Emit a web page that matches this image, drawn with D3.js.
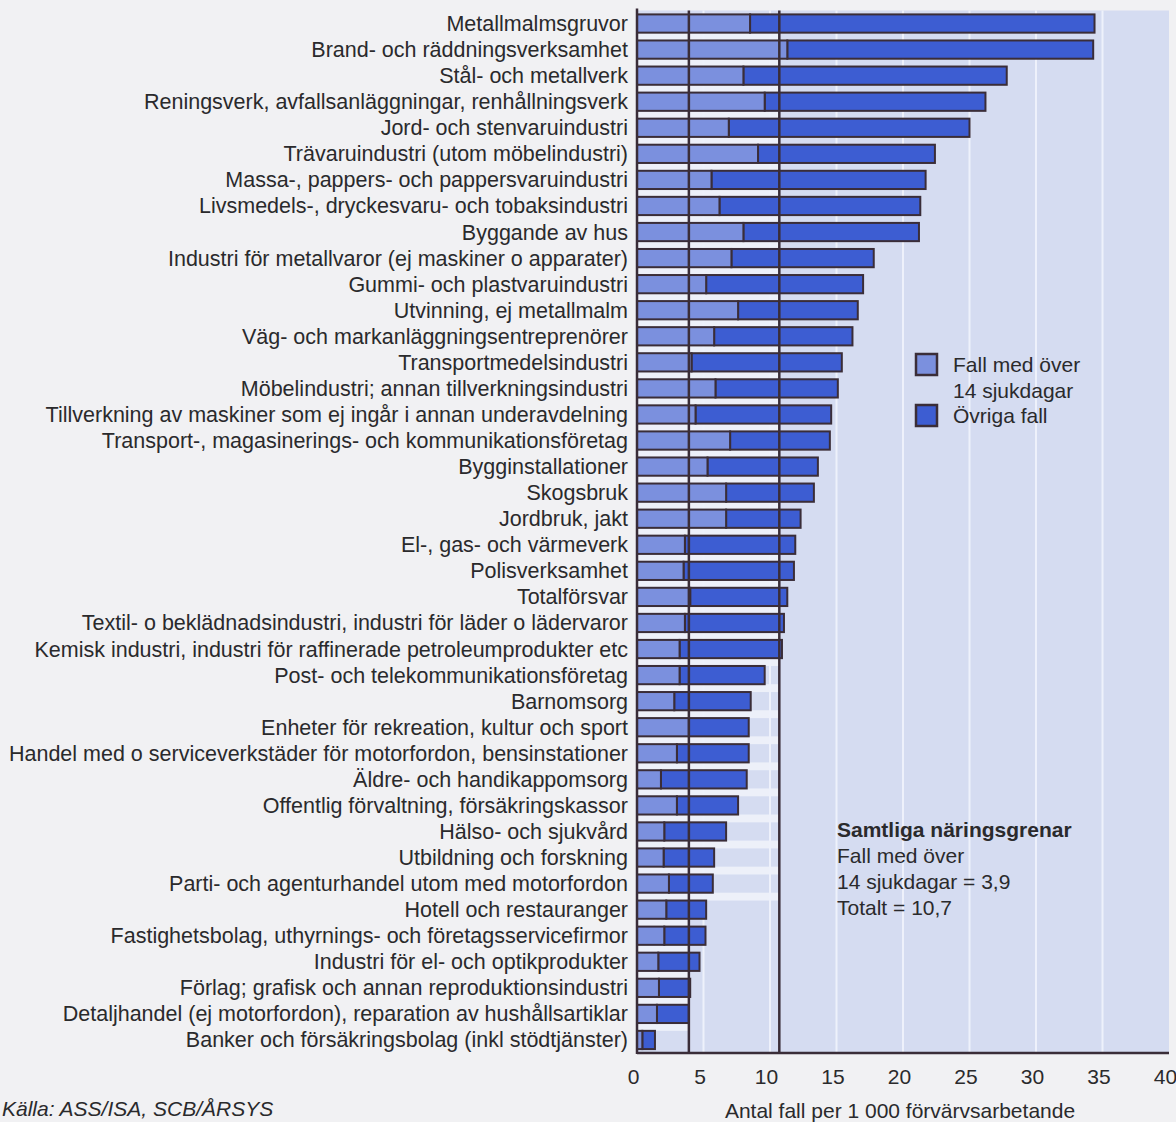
<!DOCTYPE html>
<html><head><meta charset="utf-8">
<script src="https://cdn.jsdelivr.net/npm/d3@7"></script>
<style>
body{margin:0;background:#f1f1f3;}
svg{display:block;font-family:"Liberation Sans",Arial,Helvetica,sans-serif;}
</style>
</head><body>
<svg id="c" width="1176" height="1122"></svg>
<script>
const categories = [
  "Metallmalmsgruvor",
  "Brand- och räddningsverksamhet",
  "Stål- och metallverk",
  "Reningsverk, avfallsanläggningar, renhållningsverk",
  "Jord- och stenvaruindustri",
  "Trävaruindustri (utom möbelindustri)",
  "Massa-, pappers- och pappersvaruindustri",
  "Livsmedels-, dryckesvaru- och tobaksindustri",
  "Byggande av hus",
  "Industri för metallvaror (ej maskiner o apparater)",
  "Gummi- och plastvaruindustri",
  "Utvinning, ej metallmalm",
  "Väg- och markanläggningsentreprenörer",
  "Transportmedelsindustri",
  "Möbelindustri; annan tillverkningsindustri",
  "Tillverkning av maskiner som ej ingår i annan underavdelning",
  "Transport-, magasinerings- och kommunikationsföretag",
  "Bygginstallationer",
  "Skogsbruk",
  "Jordbruk, jakt",
  "El-, gas- och värmeverk",
  "Polisverksamhet",
  "Totalförsvar",
  "Textil- o beklädnadsindustri, industri för läder o lädervaror",
  "Kemisk industri, industri för raffinerade petroleumprodukter etc",
  "Post- och telekommunikationsföretag",
  "Barnomsorg",
  "Enheter för rekreation, kultur och sport",
  "Handel med o serviceverkstäder för motorfordon, bensinstationer",
  "Äldre- och handikappomsorg",
  "Offentlig förvaltning, försäkringskassor",
  "Hälso- och sjukvård",
  "Utbildning och forskning",
  "Parti- och agenturhandel utom med motorfordon",
  "Hotell och restauranger",
  "Fastighetsbolag, uthyrnings- och företagsservicefirmor",
  "Industri för el- och optikprodukter",
  "Förlag; grafisk och annan reproduktionsindustri",
  "Detaljhandel (ej motorfordon), reparation av hushållsartiklar",
  "Banker och försäkringsbolag (inkl stödtjänster)"
];
// Fall med över 14 sjukdagar (per 1 000)
const over14 = [8.5, 11.3, 8.0, 9.6, 6.9, 9.1, 5.6, 6.2, 8.0, 7.1,
                5.2, 7.6, 5.8, 4.1, 5.9, 4.4, 7.0, 5.3, 6.7, 6.7,
                3.6, 3.5, 4.0, 3.6, 3.2, 3.2, 2.8, 3.9, 3.0, 1.8,
                3.0, 2.05, 2.0, 2.4, 2.2, 2.05, 1.6, 1.65, 1.5, 0.4];
// Totalt antal fall (per 1 000)
const totals = [34.4, 34.3, 27.8, 26.2, 25.0, 22.4, 21.7, 21.3, 21.2, 17.8,
                17.0, 16.6, 16.2, 15.4, 15.1, 14.6, 14.5, 13.6, 13.3, 12.3,
                11.9, 11.8, 11.3, 11.05, 10.9, 9.6, 8.55, 8.4, 8.4, 8.25,
                7.6, 6.7, 5.8, 5.7, 5.2, 5.15, 4.7, 4.0, 3.9, 1.35];
const xTicks = [0, 5, 10, 15, 20, 25, 30, 35, 40];
const refOver14 = 3.9;
const refTotal = 10.7;
const legendLabels = [["Fall med över", "14 sjukdagar"], ["Övriga fall"]];
const noteLines = ["Samtliga näringsgrenar", "Fall med över", "14 sjukdagar = 3,9", "Totalt = 10,7"];
const xTitle = "Antal fall per 1 000 förvärvsarbetande";
const sourceText = "Källa: ASS/ISA, SCB/ÅRSYS";

const C = {
  plot: "#d5dcf1", strip: "#edf0f9", grid: "#eef1fb",
  light: "#7b90de", dark: "#3d5dd2", line: "#3a2d38", text: "#2a2a2c"
};

const svg = d3.select("#c");
const x = d3.scaleLinear().domain([0, 40]).range([637, 1169]);
const y = d3.scaleBand().domain(categories).range([10.5, 1053]).paddingInner(0.3).paddingOuter(0.15);
const step = y.step(), bw = y.bandwidth();
const yTop = 10.5, yBot = 1053;

// plot background
svg.append("rect").attr("x", x(0)).attr("y", yTop).attr("width", x(40) - x(0)).attr("height", yBot - yTop).attr("fill", C.plot);

// light strips in the gaps between rows
const rows = categories.map((c, i) => ({c, a: over14[i], t: totals[i]}));
svg.append("g").selectAll("rect").data(rows.slice(0, -1)).join("rect")
  .attr("x", x(0))
  .attr("y", d => y(d.c) + bw)
  .attr("width", d => x(d.t > 5.5 ? refTotal : refOver14) - x(0))
  .attr("height", step - bw)
  .attr("fill", C.strip);

// white gridlines
svg.append("g").selectAll("line").data(xTicks.filter(v => v > 0 && v < 40)).join("line")
  .attr("x1", d => x(d)).attr("x2", d => x(d))
  .attr("y1", yTop).attr("y2", yBot)
  .attr("stroke", C.grid).attr("stroke-width", 2);

// bars
const bars = svg.append("g").attr("stroke", C.line).attr("stroke-width", 2);
bars.selectAll("rect.dk").data(rows).join("rect").attr("class", "dk")
  .attr("x", d => x(d.a)).attr("y", d => y(d.c))
  .attr("width", d => x(d.t) - x(d.a)).attr("height", bw)
  .attr("fill", C.dark);
bars.selectAll("rect.lt").data(rows).join("rect").attr("class", "lt")
  .attr("x", x(0)).attr("y", d => y(d.c))
  .attr("width", d => x(d.a) - x(0)).attr("height", bw)
  .attr("fill", C.light);

// reference lines
[refOver14, refTotal].forEach(v => {
  svg.append("line").attr("x1", x(v)).attr("x2", x(v)).attr("y1", yTop).attr("y2", yBot)
    .attr("stroke", C.line).attr("stroke-width", 2.5);
});

// axes lines
svg.append("line").attr("x1", x(0)).attr("x2", x(0)).attr("y1", yTop - 2).attr("y2", yBot + 1)
  .attr("stroke", C.line).attr("stroke-width", 2.5);
svg.append("line").attr("x1", x(0)).attr("x2", x(40)).attr("y1", yBot).attr("y2", yBot)
  .attr("stroke", C.line).attr("stroke-width", 2.5);

// category labels
svg.append("g").selectAll("text").data(categories).join("text")
  .attr("x", 628).attr("y", d => y(d) + bw / 2)
  .attr("dy", "0.35em").attr("text-anchor", "end")
  .attr("font-size", 21.5).attr("fill", C.text).text(d => d);

// x tick labels via axis
const xAxis = svg.append("g").attr("transform", `translate(-4,${yBot})`)
  .call(d3.axisBottom(x).tickValues(xTicks).tickSize(0).tickPadding(16));
xAxis.select(".domain").remove();
xAxis.selectAll("text").attr("font-size", 21).attr("fill", C.text).attr("font-family", "Liberation Sans, Arial, sans-serif");

// x title
svg.append("text").attr("x", 900).attr("y", 1118).attr("text-anchor", "middle")
  .attr("font-size", 21).attr("fill", C.text).text(xTitle);

// source
svg.append("text").attr("x", 2).attr("y", 1116).attr("font-style", "italic")
  .attr("font-size", 21).attr("fill", C.text).text(sourceText);

// legend
const lg = svg.append("g");
const legendColors = [C.light, C.dark];
const legendY = [354, 405];
legendLabels.forEach((lines, i) => {
  lg.append("rect").attr("x", 916).attr("y", legendY[i]).attr("width", 21).attr("height", 21)
    .attr("fill", legendColors[i]).attr("stroke", C.line).attr("stroke-width", 2.5);
  lines.forEach((t, j) => {
    lg.append("text").attr("x", 953).attr("y", legendY[i] + 18 + j * 26)
      .attr("font-size", 21).attr("fill", C.text).text(t);
  });
});

// note
noteLines.forEach((t, j) => {
  svg.append("text").attr("x", 837).attr("y", 837 + j * 26)
    .attr("font-size", 21).attr("font-weight", j === 0 ? "bold" : "normal")
    .attr("fill", C.text).text(t);
});
</script>
</body></html>
